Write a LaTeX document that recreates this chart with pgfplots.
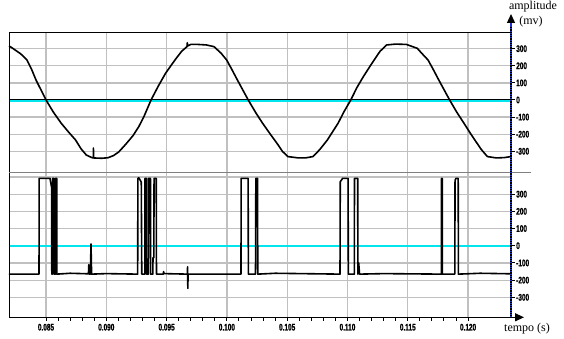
\documentclass[border=0pt]{standalone}
\usepackage{fontspec}
\setmainfont{Liberation Serif}
\newfontfamily\tickfont[FakeStretch=0.68,FakeBold=1.2]{Liberation Sans Bold}
\usepackage{pgfplots}
\pgfplotsset{compat=1.18}
\usetikzlibrary{arrows.meta}
\definecolor{gridgray}{HTML}{C0C0C0}
\definecolor{sepgray}{HTML}{808080}
\definecolor{zcyan}{HTML}{00E5EE}
\definecolor{axblue}{HTML}{1E2FD0}
\begin{document}
\begin{tikzpicture}
\path[use as bounding box] (0pt,0pt) rectangle (564pt,338pt);
\pgfplotsset{
  common/.style={
    scale only axis, width=502pt,
    xmin=0.08193, xmax=0.12356,
    xtick={0.085,0.090,0.095,0.100,0.105,0.110,0.115,0.120},
    grid=major,
    grid style={gridgray, line width=1.3pt},
    axis line style={draw=none},
    ytick pos=right, yticklabel pos=right,
    tick align=outside,
    major tick length=3.5pt,
    major tick style={black, line width=1pt},
    ticklabel style={font=\tickfont\fontsize{9.5}{10}\selectfont},
    yticklabel style={xshift=-1.8pt},
    clip=false,
  },
}
% ---------- top panel ----------
\begin{axis}[common, at={(9pt,165.7pt)}, anchor=south west, height=140pt,
  ymin=-423, ymax=396,
  ytick={-300,-200,-100,0,100,200,300},
  yticklabels={-300,-200,-100,0,100,200,300},
  xticklabels={}, xtick style={draw=none}]
\addplot[black, line width=0.7pt] coordinates {(0.08193,6) (0.12356,6)};
\addplot[zcyan, line width=2pt] coordinates {(0.08193,-4) (0.12356,-4)};
\addplot[black, line width=1.6pt, line join=round] coordinates {
(0.08193,315) (0.08208,310) (0.08290,270) (0.08342,234) (0.08380,180) (0.08417,117) (0.0850,0)
(0.08560,-70) (0.08626,-136) (0.08690,-190) (0.08745,-234) (0.08790,-285) (0.08834,-322) (0.08880,-337)
(0.08892,-339) (0.08893,-281) (0.08895,-339)
(0.08960,-341) (0.09013,-338) (0.09060,-325) (0.09103,-304) (0.09160,-260) (0.09222,-208) (0.09270,-155) (0.09312,-97) (0.09371,0)
(0.09430,80) (0.09491,156) (0.0954,205) (0.0958,244) (0.09625,285) (0.09669,312) (0.09672,335) (0.09675,316) (0.09700,325) (0.09759,325)
(0.09830,322) (0.09893,312) (0.09950,275) (0.09998,234) (0.10040,180) (0.10087,117) (0.10177,0)
(0.10240,-75) (0.10296,-136) (0.10360,-200) (0.10415,-253) (0.10460,-300) (0.10505,-331) (0.10594,-339) (0.10650,-339)
(0.10714,-331) (0.10770,-290) (0.10833,-234) (0.10922,-136) (0.10970,-70) (0.11027,0) (0.11080,75) (0.11131,136)
(0.11180,190) (0.11221,234) (0.11270,285) (0.11325,322) (0.11400,327) (0.11489,325) (0.11579,302)
(0.11620,270) (0.11668,234) (0.11710,180) (0.11757,117) (0.11847,0) (0.11905,-70) (0.11966,-136) (0.12010,-185) (0.12056,-234)
(0.12110,-290) (0.1216,-331) (0.12235,-339) (0.12300,-337) (0.12356,-331)};
\end{axis}
% ---------- bottom panel ----------
\begin{axis}[common, at={(9pt,20.7pt)}, anchor=south west, height=145pt,
  ymin=-416, ymax=427,
  ytick={-300,-200,-100,0,100,200,300},
  yticklabels={-300,-200,-100,0,100,200,300},
  extra y ticks={400}, extra y tick labels={},
  extra y tick style={major tick length=0pt},
  xticklabels={0.085,0.090,0.095,0.100,0.105,0.110,0.115,0.120},
  xtick pos=bottom, minor x tick num=4,
  minor tick length=3.5pt, minor tick style={black, line width=1pt},
  xticklabel style={yshift=0.5pt}]
\addplot[zcyan, line width=2pt] coordinates {(0.08193,0) (0.12356,0)};
\addplot[black, line width=1.6pt, line join=round] coordinates {
(0.08193,-165) (0.08442,-165) (0.08443,392) (0.08533,392) (0.08546,340) (0.08548,-165)
(0.08554,-165) (0.08555,392) (0.08565,392) (0.08566,-165)
(0.08579,-165) (0.0858,392) (0.08589,392) (0.0859,-165)
(0.0870,-160) (0.08852,-163) (0.08855,-110) (0.08860,-165)
(0.08868,-165) (0.08873,10) (0.08878,-165)
(0.09000,-162) (0.09260,-165) (0.09262,392) (0.09270,395) (0.09290,370) (0.09294,-165)
(0.09320,-165) (0.09321,392) (0.09332,392) (0.09333,-165)
(0.09349,-165) (0.0935,392) (0.09366,392) (0.09367,-165)
(0.09386,-165) (0.09387,-70) (0.09394,-70) (0.09396,392) (0.09414,392) (0.09416,-165)
(0.09473,-165) (0.09475,-150) (0.09478,-162)
(0.09672,-165) (0.09674,-122) (0.09676,-248) (0.09678,-165)
(0.10117,-165) (0.10118,392) (0.10176,392) (0.10178,-165)
(0.10236,-165) (0.10238,-90) (0.10240,392) (0.10254,392) (0.10256,-165)
(0.10400,-160) (0.10938,-165) (0.10940,372) (0.10960,392) (0.11005,392) (0.11007,-165)
(0.11057,-165) (0.11058,392) (0.11085,392) (0.11086,-165) (0.11093,-100) (0.11100,-165)
(0.11300,-162) (0.11779,-165) (0.1178,392) (0.11786,392) (0.11787,-165)
(0.11890,-165) (0.11892,380) (0.11900,392) (0.11918,392) (0.11920,-165)
(0.12100,-160) (0.12356,-163)};
\end{axis}
% ---------- frame and axes ----------
\draw[black, line width=1pt] (9pt,20.7pt) -- (9pt,305.7pt) -- (511pt,305.7pt);
\draw[sepgray, line width=1.6pt] (9pt,165.7pt) -- (531pt,165.7pt);
\draw[black, line width=1.2pt, -{Triangle[length=9pt,width=8pt]}] (9pt,20.7pt) -- (524pt,20.7pt);
\draw[axblue, line width=1.3pt, -{Triangle[length=9pt,width=8pt,black]}] (511pt,20.7pt) -- (511pt,324pt);
\draw[black, line width=1.3pt, dash pattern=on 0.8pt off 1pt] (511pt,20.7pt) -- (511pt,312pt);
\node[font=\fontsize{12}{12}\selectfont] at (533pt,331pt) {amplitude};
\node[font=\fontsize{12}{12}\selectfont] at (531pt,316.5pt) {(mv)};
\node[font=\fontsize{12}{12}\selectfont] at (527pt,9pt) {tempo (s)};
\end{tikzpicture}
\end{document}
